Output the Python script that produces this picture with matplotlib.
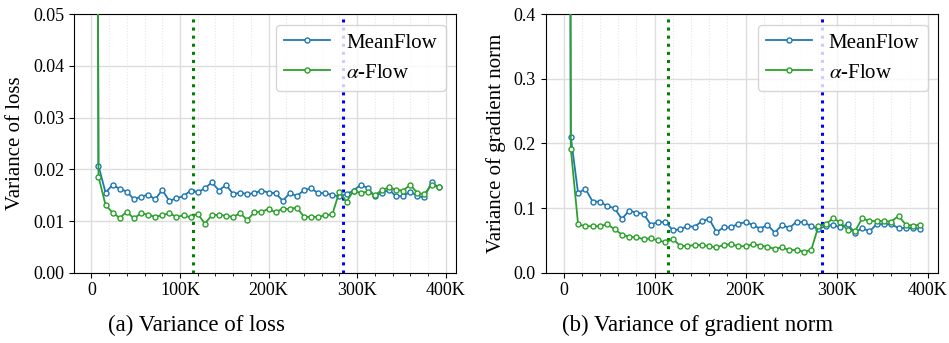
import matplotlib
matplotlib.use("Agg")
import matplotlib.pyplot as plt
from matplotlib.ticker import FuncFormatter, AutoMinorLocator, MultipleLocator

plt.rcParams["font.family"] = "serif"
plt.rcParams["font.serif"] = ["Liberation Serif", "DejaVu Serif"]
plt.rcParams["mathtext.fontset"] = "stix"

# training step (in K) of each checkpoint
steps_k = [0, 8, 16, 24, 32, 40, 48, 56, 64, 72, 80, 88, 96, 104, 112, 120, 128,
           136, 144, 152, 160, 168, 176, 184, 192, 200, 208, 216, 224, 232, 240,
           248, 256, 264, 272, 280, 288, 296, 304, 312, 320, 328, 336, 344, 352,
           360, 368, 376, 384, 392]

# variance of loss
loss_meanflow = [0.5, 0.0207, 0.0155, 0.0170, 0.0162, 0.0157, 0.0142, 0.0147, 0.0151,
                 0.0142, 0.0160, 0.0139, 0.0144, 0.0148, 0.0159, 0.0156, 0.0163,
                 0.0175, 0.0159, 0.0170, 0.0152, 0.0155, 0.0152, 0.0154, 0.0159,
                 0.0155, 0.0154, 0.0139, 0.0154, 0.0148, 0.0160, 0.0163, 0.0154,
                 0.0154, 0.0150, 0.0148, 0.0152, 0.0159, 0.0170, 0.0164, 0.0148,
                 0.0155, 0.0160, 0.0148, 0.0148, 0.0157, 0.0148, 0.0146, 0.0175,
                 0.0165]
loss_alpha = [0.5, 0.0186, 0.0131, 0.0116, 0.0106, 0.0118, 0.0105, 0.0115, 0.0112,
              0.0108, 0.0111, 0.0115, 0.0108, 0.0111, 0.0107, 0.0114, 0.0095,
              0.0111, 0.0112, 0.0110, 0.0108, 0.0115, 0.0102, 0.0117, 0.0118,
              0.0123, 0.0117, 0.0124, 0.0123, 0.0126, 0.0108, 0.0108, 0.0108,
              0.0111, 0.0113, 0.0157, 0.0137, 0.0159, 0.0154, 0.0157, 0.0150,
              0.0160, 0.0165, 0.0160, 0.0159, 0.0170, 0.0154, 0.0152, 0.0170,
              0.0165]

# variance of gradient norm
grad_meanflow = [5.0, 0.210, 0.123, 0.130, 0.110, 0.110, 0.103, 0.100, 0.083, 0.096,
                 0.093, 0.091, 0.074, 0.079, 0.078, 0.066, 0.067, 0.072, 0.071,
                 0.080, 0.083, 0.063, 0.070, 0.070, 0.076, 0.078, 0.074, 0.068,
                 0.074, 0.062, 0.074, 0.069, 0.079, 0.078, 0.072, 0.068, 0.072,
                 0.074, 0.070, 0.075, 0.062, 0.069, 0.064, 0.075, 0.075, 0.075,
                 0.069, 0.069, 0.069, 0.068]
grad_alpha = [5.0, 0.192, 0.0747, 0.072, 0.072, 0.072, 0.0747, 0.0675, 0.059, 0.0556,
              0.0546, 0.052, 0.053, 0.050, 0.047, 0.052, 0.042, 0.041, 0.043,
              0.043, 0.041, 0.039, 0.043, 0.044, 0.041, 0.041, 0.044, 0.042,
              0.040, 0.037, 0.039, 0.035, 0.035, 0.0325, 0.035, 0.072, 0.075,
              0.084, 0.078, 0.066, 0.064, 0.084, 0.080, 0.080, 0.080, 0.079,
              0.088, 0.074, 0.073, 0.074]

vline_green = 115000
vline_blue = 284000

BLUE = "#1f77b4"
GREEN = "#2ca02c"

steps = [s * 1000 for s in steps_k]

fig = plt.figure(figsize=(9.49, 3.43), dpi=100)
ax1 = fig.add_axes([0.078, 0.205, 0.4025, 0.7534])
ax2 = fig.add_axes([0.575, 0.205, 0.4137, 0.7534])


def kfmt(x, pos):
    return "0" if x == 0 else f"{int(round(x / 1000))}K"


def draw(ax, mf, af, ylim, ystep, ylabel, lab_x):
    ax.plot(steps, mf, color=BLUE, lw=1.3, marker="o", ms=3.6, mfc="white",
            mec=BLUE, mew=1.0, label="MeanFlow", zorder=3)
    ax.plot(steps, af, color=GREEN, lw=1.3, marker="o", ms=3.6, mfc="white",
            mec=GREEN, mew=1.0, label=r"$\alpha$-Flow", zorder=4)
    ax.axvline(vline_green, color="#008000", ls=":", lw=2.2, zorder=2)
    ax.axvline(vline_blue, color="#0000ff", ls=":", lw=2.2, zorder=2)
    ax.set_xlim(-19600, 411600)
    ax.set_ylim(*ylim)
    ax.yaxis.set_major_locator(MultipleLocator(ystep))
    ax.xaxis.set_major_locator(MultipleLocator(100000))
    ax.xaxis.set_minor_locator(AutoMinorLocator(5))
    ax.xaxis.set_major_formatter(FuncFormatter(kfmt))
    ax.grid(True, which="major", color="#dddddd", lw=1.0, zorder=0)
    ax.grid(True, which="minor", axis="x", color="#e6e6e6", ls=":", lw=0.8, zorder=0)
    ax.set_axisbelow(True)
    ax.tick_params(labelsize=13)
    ax.set_ylabel(ylabel, fontsize=15)
    ax.yaxis.set_label_coords(lab_x, 0.5)
    ax.legend(loc="upper right", fontsize=15, framealpha=0.8, handlelength=2.2,
              borderaxespad=0.5)


draw(ax1, loss_meanflow, loss_alpha, (0, 0.05), 0.01, "Variance of loss", -0.128)
ax1.yaxis.set_major_formatter(FuncFormatter(lambda v, p: f"{v:.2f}"))
draw(ax2, grad_meanflow, grad_alpha, (0, 0.4), 0.1, "Variance of gradient norm", -0.101)
ax2.yaxis.set_major_formatter(FuncFormatter(lambda v, p: f"{v:.1f}"))

fig.text(196 / 949, 0.05, "(a) Variance of loss", ha="center", va="center", fontsize=16.5)
fig.text(698 / 949, 0.05, "(b) Variance of gradient norm", ha="center", va="center", fontsize=16.5)

fig.savefig("out.png", dpi=100)
